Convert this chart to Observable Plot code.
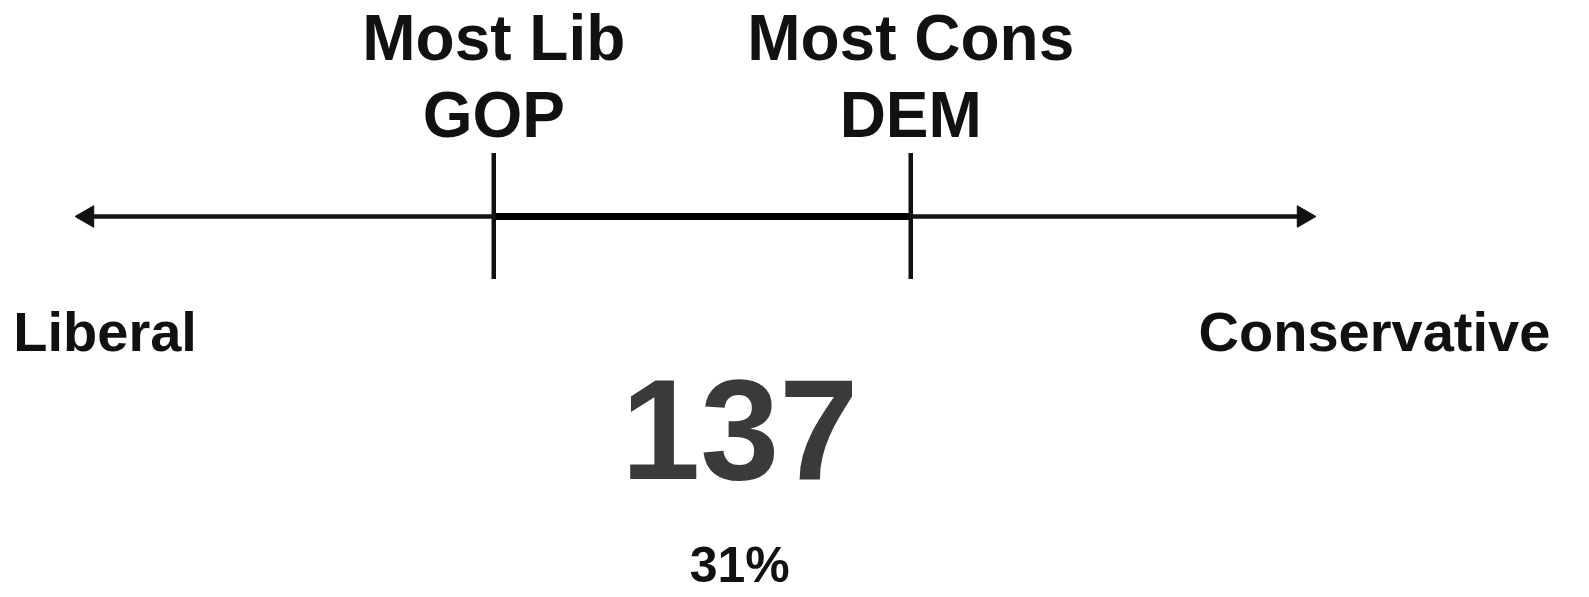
<!DOCTYPE html>
<html>
<head>
<meta charset="utf-8">
<script src="https://cdn.jsdelivr.net/npm/d3@7"></script>
<script src="https://cdn.jsdelivr.net/npm/@observablehq/plot@0.6"></script>
<style>
  html, body { margin: 0; padding: 0; background: #ffffff; }
  #chart svg { display: block; }
</style>
</head>
<body>
<div id="chart"></div>
<script>
// Spectrum data (abstract scale: 0 = Liberal end, 100 = Conservative end)
const axisEnds = [0, 100];
const markerLabels = ["Most Lib\nGOP", "Most Cons\nDEM"];
const markerPositions = [33.6, 67.5];
const poleLabels = ["Liberal", "Conservative"];
const polePositions = [2.0, 105.2];
const countLabel = ["137"];
const shareLabel = ["31%"];
const overlapCenter = [53.6];

const markers = markerLabels.map((label, i) => ({label, x: markerPositions[i]}));
const poles = poleLabels.map((label, i) => ({label, x: polePositions[i]}));

const font = "'Liberation Sans', Arial, sans-serif";

const chart = Plot.plot({
  width: 1589,
  height: 597,
  margin: 0,
  style: {background: "#ffffff", fontFamily: font},
  x: {domain: [0, 100], range: [80, 1310], axis: null},
  y: {domain: [-6.35, 3.6], range: [597, 0], axis: null},
  marks: [
    // full spectrum line
    Plot.ruleY([0], {x1: axisEnds[0] + 0.8, x2: axisEnds[1] - 0.8, stroke: "#151515", strokeWidth: 4.5}),
    // overlap segment between markers (heavier)
    Plot.ruleY([0], {x1: markerPositions[0], x2: markerPositions[1], stroke: "#000", strokeWidth: 7}),
    // arrowheads
    Plot.dot([axisEnds[0]], {x: d => d, y: 0, dx: 7, symbol: "triangle", r: 8, fill: "#111", stroke: "#111", strokeWidth: 1, rotate: -90}),
    Plot.dot([axisEnds[1]], {x: d => d, y: 0, dx: -7, symbol: "triangle", r: 8, fill: "#111", stroke: "#111", strokeWidth: 1, rotate: 90}),
    // marker ticks
    Plot.ruleX(markers, {x: "x", y1: -1.05, y2: 1.05, stroke: "#111", strokeWidth: 4.5}),
    // marker labels
    Plot.text(markers, {x: "x", y: 2.37, text: "label", fontSize: 64, fontWeight: "bold", lineHeight: 1.2, fill: "#111", fontFamily: font}),
    // pole labels
    Plot.text(poles, {x: "x", y: -1.95, text: "label", fontSize: 56, fontWeight: "bold", fill: "#111", fontFamily: font}),
    // count
    Plot.text(countLabel, {x: overlapCenter, y: -3.62, text: d => d, fontSize: 142, fontWeight: "bold", fill: "#3a3a3a", fontFamily: font}),
    // share
    Plot.text(shareLabel, {x: overlapCenter, y: -5.83, text: d => d, fontSize: 50, fontWeight: "bold", fill: "#111", fontFamily: font})
  ]
});
document.getElementById("chart").appendChild(chart);
</script>
</body>
</html>
